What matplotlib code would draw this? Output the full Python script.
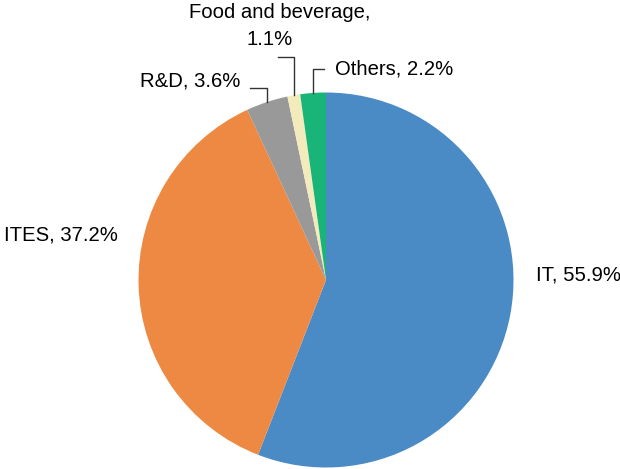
import numpy as np
import matplotlib
matplotlib.use("Agg")
import matplotlib.pyplot as plt

plt.rcParams['font.family'] = ['Liberation Sans', 'DejaVu Sans']

categories = ["IT", "ITES", "R&D", "Food and beverage", "Others"]
shares = [55.9, 37.2, 3.6, 1.1, 2.2]
colors = ["#4A8BC6", "#EE8944", "#999999", "#F3EBBB", "#19B478"]

W, H = 620, 469
fig = plt.figure(figsize=(W / 100, H / 100), dpi=100)
ax = fig.add_axes([0, 0, 1, 1])

cx, cy, r = 326, H - 280, 187.5
ax.pie(shares, colors=colors, startangle=90, counterclock=False,
       center=(cx, cy), radius=r, frame=True,
       wedgeprops=dict(linewidth=0))
ax.set_xlim(0, W)
ax.set_ylim(0, H)
ax.set_aspect('equal')
ax.axis('off')

fs = 14.6
# mid-angle anchor on the rim of each wedge (clockwise from top)
cum = np.cumsum([0] + shares)
def rim(i):
    frac = (cum[i] + cum[i + 1]) / 2 / 100
    a = 2 * np.pi * frac
    return cx + r * np.sin(a), cy + r * np.cos(a)

labels = [f"{c}, {v}%" for c, v in zip(categories, shares)]

# large slices: plain text
ax.text(536, H - 275, labels[0], fontsize=fs, ha='left', va='center')
ax.text(4, H - 235, labels[1], fontsize=fs, ha='left', va='center')

# small slices: elbow leader lines
lc = '#333333'
x, y = rim(2)
ax.plot([x, x, 250], [y, H - 88, H - 88], color=lc, lw=1)
ax.text(240, H - 81, labels[2], fontsize=fs, ha='right', va='center')

x, y = rim(3)
ax.plot([x, x, 278], [y, H - 57, H - 57], color=lc, lw=1)
ax.text(280, H - 12, f"{categories[3]},", fontsize=fs, ha='center', va='center')
ax.text(270, H - 39, f"{shares[3]}%", fontsize=fs, ha='center', va='center')

x, y = rim(4)
ax.plot([x, x, 324], [y, H - 69, H - 69], color=lc, lw=1)
ax.text(335, H - 69, labels[4], fontsize=fs, ha='left', va='center')

fig.savefig("out.png", dpi=100)
